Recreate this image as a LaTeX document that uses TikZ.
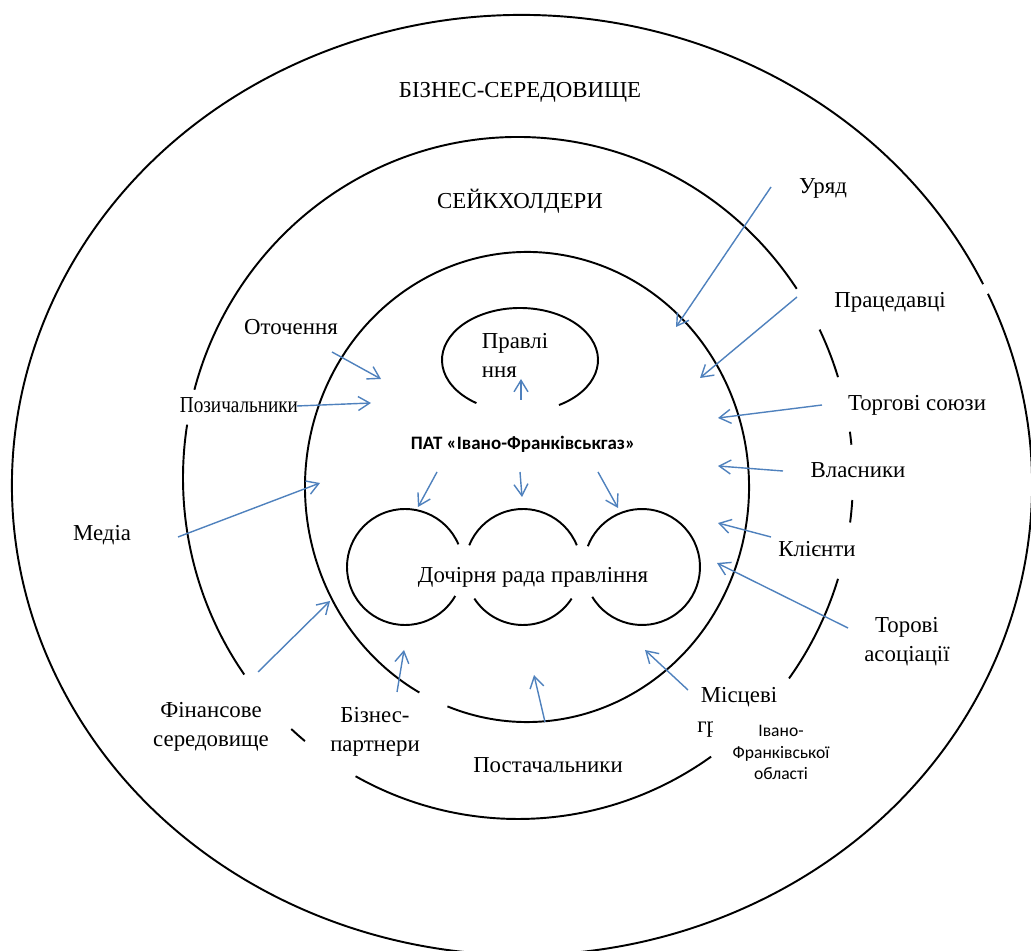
\documentclass[tikz,border=0pt]{standalone}
\usepackage{fontspec}
\usepackage{graphicx}
\setmainfont{Liberation Serif}
\newfontfamily\calib{Carlito}
\usetikzlibrary{arrows.meta}
\definecolor{arrowblue}{RGB}{79,129,189}
\begin{document}
\begin{tikzpicture}[x=0.02cm,y=0.02cm,
  ring/.style={line width=1.1pt,black},
  lbl/.style={font=\fontsize{13}{16.5}\selectfont,inner sep=1pt,align=center},
  conn/.style={arrowblue,line width=0.8pt,-{Straight Barb[length=2.3mm,width=2.8mm]}}]
\useasboundingbox (0,0) rectangle (1031,950);
% outer ellipse
\draw[ring] (522,465) ++(25.3:510 and 470) arc[start angle=25.3,end angle=384,x radius=510,y radius=470];
% middle ellipse (broken)
\draw[ring] (518,472) ++(33.7:335 and 341) arc[start angle=33.7,end angle=165,x radius=335,y radius=341];
\draw[ring] (518,472) ++(171:335 and 341) arc[start angle=171,end angle=215.2,x radius=335,y radius=341];
\draw[ring] (518,472) ++(227.4:335 and 341) arc[start angle=227.4,end angle=230.5,x radius=335,y radius=341];
\draw[ring] (518,472) ++(241:335 and 341) arc[start angle=241,end angle=305.2,x radius=335,y radius=341];
\draw[ring] (518,472) ++(324:335 and 341) arc[start angle=324,end angle=342.8,x radius=335,y radius=341];
\draw[ring] (518,472) ++(352.5:335 and 341) arc[start angle=352.5,end angle=356.3,x radius=335,y radius=341];
\draw[ring] (518,472) ++(5.6:335 and 341) arc[start angle=5.6,end angle=7.8,x radius=335,y radius=341];
\draw[ring] (518,472) ++(17.2:335 and 341) arc[start angle=17.2,end angle=25.8,x radius=335,y radius=341];
% inner ellipse
\draw[ring] (527,463) ++(249:222 and 235) arc[start angle=249,end angle=601,x radius=222,y radius=235];
% Правління ellipse
\draw[ring] (520,590) ++(-60:78 and 52) arc[start angle=-60,end angle=236,x radius=78,y radius=52];
% three circles
\draw[ring] (405,383) ++(23:58) arc[start angle=23,end angle=330,radius=58];
\draw[ring] (523,383) ++(22:58) arc[start angle=22,end angle=158,radius=58];
\draw[ring] (523,383) ++(213:58) arc[start angle=213,end angle=327,radius=58];
\draw[ring] (642,383) ++(211:58) arc[start angle=211,end angle=519,radius=58];

% labels
\node[lbl] (biz) at (520,858) {БІЗНЕС-СЕРЕДОВИЩЕ};
\node[lbl] (stake) at (520,749) {СЕЙКХОЛДЕРИ};
\node[lbl,align=left] (prav) at (515,595) {Правлі\\ння};
\node[font=\calib\bfseries\fontsize{10.8}{12}\selectfont,inner sep=1pt] (pat) at (523,506) {ПАТ «Івано-Франківськгаз»};
\node[lbl] (rada) at (533,373) {Дочірня рада правління};
\node[lbl] (uryad) at (823,762) {Уряд};
\node[lbl] (prats) at (890,648) {Працедавці};
\node[lbl] (torg) at (917,545) {Торгові союзи};
\node[lbl] (vlas) at (858,480) {Власники};
\node[lbl] (klie) at (817,401) {Клієнти};
\node[lbl] (torov) at (907,308) {Торові\\асоціації};
\node[lbl] (mists) at (739,253) {Місцеві};
\node[lbl,anchor=west,inner sep=0pt] (gr) at (697,220) {гр};
\begin{scope}
\clip (713,168) rectangle (850,236);
\fill[white] (713,168) rectangle (850,236);
\node[font=\calib\fontsize{10}{12.2}\selectfont,align=center,inner sep=0pt,anchor=north] (obl) at (781,225) {Івано-\\Франківської\\області};
\end{scope}
\node[lbl] (partn) at (375,218) {Бізнес-\\партнери};
\node[lbl] (post) at (548,185) {Постачальники};
\node[lbl] (fin) at (211,223) {Фінансове\\середовище};
\node[lbl] (media) at (102,415) {Медіа};
\node[lbl] (pozy) at (239,545) {\scalebox{0.84}[1]{Позичальники}};
\node[lbl] (otoch) at (291,623) {Оточення};

% connector end points
\coordinate (a1s) at (771,763); \coordinate (a1e) at (676,623);
\coordinate (a2s) at (797,653); \coordinate (a2e) at (700,572);
\coordinate (a3s) at (822,545); \coordinate (a3e) at (718,532);
\coordinate (a4s) at (783,479); \coordinate (a4e) at (718,484);
\coordinate (a5s) at (771,413); \coordinate (a5e) at (718,427);
\coordinate (a6s) at (848,322); \coordinate (a6e) at (717,387);
\coordinate (a7s) at (688,260); \coordinate (a7e) at (645,300);
\coordinate (a8s) at (545,228); \coordinate (a8e) at (534,275);
\coordinate (a9s) at (397,258); \coordinate (a9e) at (404,300);
\coordinate (a10s) at (258,278); \coordinate (a10e) at (330,349);
\coordinate (a11s) at (178,413); \coordinate (a11e) at (320,467);
\coordinate (a12s) at (297,544); \coordinate (a12e) at (371,547);
\coordinate (a13s) at (332,598); \coordinate (a13e) at (381,571);
\coordinate (b1s) at (521,550); \coordinate (b1e) at (521,571);
\coordinate (b2s) at (437,478); \coordinate (b2e) at (418,443);
\coordinate (b3s) at (520,478); \coordinate (b3e) at (522,453);
\coordinate (b4s) at (598,478); \coordinate (b4e) at (618,442);

\foreach \n in {a1,a2,a3,a4,a5,a6,a7,a8,a9,a10,a11,a12,a13,b1,b2,b3,b4}
  \draw[conn] (\n s) -- (\n e);
\end{tikzpicture}
\end{document}
